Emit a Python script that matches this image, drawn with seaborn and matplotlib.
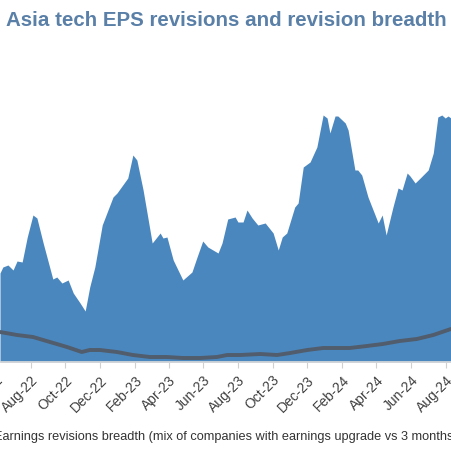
import datetime as dt
import pandas as pd
import seaborn as sns
import matplotlib
matplotlib.use("Agg")
import matplotlib.pyplot as plt
import matplotlib.dates as mdates

# EPS revisions (area)
eps_dates = ["2022-06-08", "2022-06-13", "2022-06-22", "2022-07-01", "2022-07-08", "2022-07-17",
             "2022-07-26", "2022-08-05", "2022-08-12", "2022-08-23", "2022-09-09", "2022-09-16",
             "2022-09-25", "2022-10-06", "2022-10-15", "2022-10-27", "2022-11-05", "2022-11-13",
             "2022-11-22", "2022-12-05", "2022-12-24", "2022-12-31", "2023-01-19", "2023-01-28",
             "2023-02-04", "2023-02-15", "2023-03-03", "2023-03-17", "2023-03-22", "2023-03-29",
             "2023-04-09", "2023-04-26", "2023-05-12", "2023-05-21", "2023-05-31", "2023-06-09",
             "2023-06-27", "2023-07-04", "2023-07-14", "2023-07-27", "2023-08-01", "2023-08-10",
             "2023-08-17", "2023-08-26", "2023-09-05", "2023-09-18", "2023-10-02", "2023-10-11",
             "2023-10-18", "2023-10-26", "2023-11-09", "2023-11-15", "2023-11-24", "2023-12-06",
             "2023-12-18", "2023-12-29", "2024-01-05", "2024-01-10", "2024-01-19", "2024-01-24",
             "2024-02-06", "2024-02-11", "2024-02-23", "2024-02-28", "2024-03-06", "2024-03-17",
             "2024-04-04", "2024-04-11", "2024-04-18", "2024-04-30", "2024-05-09", "2024-05-16",
             "2024-05-25", "2024-05-30", "2024-06-08", "2024-06-17", "2024-07-01", "2024-07-10",
             "2024-07-18", "2024-07-25", "2024-07-31", "2024-08-05", "2024-08-10"]
eps_values = [8.9, 9.5, 9.7, 9.2, 10.1, 10.0,
              12.5, 14.7, 14.4, 11.9, 8.3, 8.5,
              7.9, 8.2, 6.9, 5.9, 5.1, 7.5,
              9.5, 13.7, 16.5, 16.9, 18.4, 20.7,
              20.2, 17.2, 11.9, 12.9, 12.4, 12.5,
              10.2, 8.2, 9.0, 10.5, 12.1, 11.5,
              10.9, 11.9, 14.3, 14.5, 14.0, 14.0,
              15.2, 14.4, 13.7, 13.9, 12.9, 11.2,
              12.5, 12.9, 15.5, 15.9, 19.5, 20.0,
              21.5, 24.7, 24.4, 22.9, 24.6, 24.6,
              23.9, 23.2, 19.2, 19.2, 18.7, 16.5,
              13.9, 14.7, 12.7, 15.5, 17.4, 17.2,
              18.9, 18.6, 17.9, 18.4, 19.2, 20.9,
              24.5, 24.7, 24.4, 24.6, 24.4]

# revision breadth (line)
breadth_dates = ["2022-06-08", "2022-07-08", "2022-08-05", "2022-09-04", "2022-10-04", "2022-10-30",
                 "2022-11-13", "2022-12-01", "2022-12-31", "2023-01-28", "2023-02-27", "2023-03-29",
                 "2023-04-26", "2023-05-26", "2023-06-25", "2023-07-13", "2023-08-05", "2023-09-09",
                 "2023-10-09", "2023-11-01", "2023-12-01", "2023-12-29", "2024-02-14", "2024-03-15",
                 "2024-04-12", "2024-05-12", "2024-06-11", "2024-07-10", "2024-08-10"]
breadth_values = [3.0, 2.7, 2.5, 2.0, 1.5, 1.0,
                  1.2, 1.2, 1.0, 0.7, 0.5, 0.5,
                  0.4, 0.4, 0.5, 0.7, 0.7, 0.8,
                  0.7, 0.9, 1.2, 1.4, 1.4, 1.6,
                  1.8, 2.1, 2.3, 2.7, 3.3]

title = "Asia tech EPS revisions and revision breadth"
legend_text = "Earnings revisions breadth (mix of companies with earnings upgrade vs 3 months ago)"

eps = pd.DataFrame({"date": pd.to_datetime(eps_dates), "value": eps_values})
breadth = pd.DataFrame({"date": pd.to_datetime(breadth_dates), "value": breadth_values})

sns.set_theme(style="white")
plt.rcParams["font.family"] = ["Liberation Sans", "DejaVu Sans"]

fig = plt.figure(figsize=(4.51, 4.50), dpi=100)
# the picture is a crop: the axes run past the left and right edges
W, H = 451, 450
left_px, right_px = -40, 500
ax = fig.add_axes([left_px / W, (H - 362) / H, (right_px - left_px) / W, (362 - 60) / H])

day0 = dt.datetime(2022, 6, 8)
px_day = 1.761
ax.set_xlim(day0 + dt.timedelta(days=left_px * px_day),
            day0 + dt.timedelta(days=right_px * px_day))
ax.set_ylim(0, 30.2)

ax.fill_between(eps["date"], 0, eps["value"], color="#4a87bf", linewidth=0)
sns.lineplot(data=breadth, x="date", y="value", ax=ax, color="#515d6c", linewidth=2.8)

ax.xaxis.set_major_locator(mdates.MonthLocator(bymonth=[2, 4, 6, 8, 10, 12]))
ax.xaxis.set_major_formatter(mdates.DateFormatter("%b-%y"))
for lab in ax.get_xticklabels():
    lab.set_rotation(45)
    lab.set_ha("right")
    lab.set_rotation_mode("anchor")
ax.tick_params(axis="x", labelsize=10, colors="#d0d0d0",
               length=4, width=0.8, direction="out", bottom=True, pad=4)
ax.tick_params(axis="x", labelcolor="#404040")
ax.set_yticks([])
ax.set_xlabel("")
ax.set_ylabel("")
for s in ["top", "left", "right"]:
    ax.spines[s].set_visible(False)
ax.spines["bottom"].set_color("#d9d9d9")

fig.text(6 / W, 1 - 20 / H, title, fontsize=14.8, fontweight="bold", color="#5a80a8",
         ha="left", va="center")
fig.text(-6 / W, 1 - 437 / H, legend_text, fontsize=9.15, color="#333333",
         ha="left", va="center")

fig.savefig("out.png", dpi=100)
